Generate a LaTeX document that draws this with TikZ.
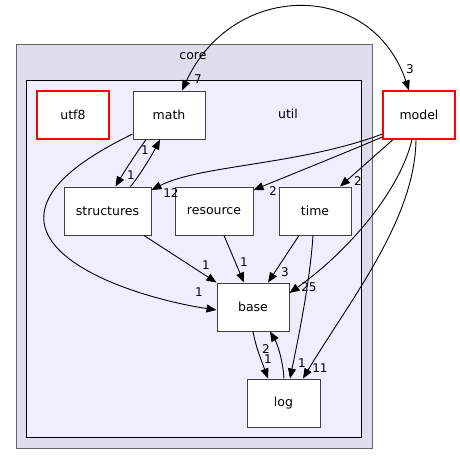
\documentclass[tikz,border=0pt]{standalone}
\usepackage{fontspec}
\setmainfont{DejaVu Sans}
\usetikzlibrary{arrows.meta}
\definecolor{nodeborder}{RGB}{64,64,64}
\definecolor{redborder}{RGB}{255,0,0}
\definecolor{corefill}{RGB}{221,221,238}
\definecolor{utilfill}{RGB}{238,238,255}
\tikzset{
  dirbox/.style={draw=nodeborder, line width=1pt, fill=white, minimum width=72pt, minimum height=48pt, inner sep=0pt, font=\fontsize{12.5}{15}\selectfont},
  redbox/.style={draw=redborder, line width=1.2pt, fill=white, minimum width=72pt, minimum height=48pt, inner sep=0pt, font=\fontsize{12.5}{15}\selectfont},
  edge/.style={draw=black, line width=0.9pt, -{Triangle[length=10pt,width=8pt]}},
  elabel/.style={inner sep=0pt, font=\fontsize{12}{14}\selectfont},
  cluster/.style={line width=1pt, inner sep=0pt}
}
\begin{document}
\begin{tikzpicture}[x=1pt,y=-1pt]
\useasboundingbox (0,0) rectangle (460,464);
% clusters
\node[cluster, draw=black!60, fill=corefill, minimum width=356pt, minimum height=404pt] (core) at (194,246) {};
\node[elabel, font=\fontsize{12.5}{15}\selectfont] (corelbl) at (193,56) {core};
\node[cluster, draw=black, fill=utilfill, minimum width=335pt, minimum height=357pt] (util) at (193.5,258.5) {};
\node[elabel, font=\fontsize{12.5}{15}\selectfont] (utillbl) at (288,114) {util};
% nodes
\node[redbox] (utf8) at (73,115) {utf8};
\node[dirbox] (math) at (169,115) {math};
\node[redbox] (model) at (419,115) {model};
\node[dirbox, minimum width=87pt] (structures) at (107.5,211) {structures};
\node[dirbox, minimum width=78pt] (resource) at (214,211) {resource};
\node[dirbox] (time) at (315,211) {time};
\node[dirbox] (base) at (253,307) {base};
\node[dirbox, minimum width=73pt] (log) at (283.5,403) {log};
% edges
\draw[edge] ([yshift=-19pt]math.west) .. controls (90,155) and (40,185) .. (44,222) .. controls (50,270) and (150,300) .. ([yshift=-3pt]base.west);
\node[elabel] (l1) at (199,292) {1};
\draw[edge] ([xshift=-23pt]math.south) .. controls (135,155) and (124,172) .. ([xshift=8pt]structures.north);
\node[elabel] (l2) at (131,175) {1};
\draw[edge] ([xshift=23pt]structures.north) .. controls (140,175) and (152,155) .. ([xshift=-9pt]math.south);
\node[elabel] (l3) at (145,150) {1};
\draw[edge, {Triangle[length=10pt,width=8pt]}-{Triangle[length=10pt,width=8pt]}] ([xshift=13pt]math.north) .. controls (233,-20) and (372,-20) .. ([xshift=-10pt]model.north);
\node[elabel] (l4) at (198,79) {7};
\node[elabel] (l5) at (410,69) {3};
\draw[edge] ([yshift=-19pt]model.west) .. controls (300,165) and (200,165) .. ([yshift=21pt]structures.east);
\node[elabel] (l6) at (171,193) {12};
\draw[edge] ([yshift=-22pt]model.west) .. controls (340,155) and (290,175) .. ([yshift=21pt]resource.east);
\node[elabel] (l7) at (273,191) {2};
\draw[edge] ([xshift=-26pt]model.south) -- ([xshift=25pt]time.north);
\node[elabel] (l8) at (358,181) {2};
\draw[edge] ([xshift=-7pt]model.south) .. controls (400,190) and (350,250) .. ([yshift=14pt]base.east);
\node[elabel] (l9) at (309,287) {25};
\draw[edge] ([xshift=-3pt]model.south) .. controls (415,220) and (350,300) .. ([xshift=19.5pt]log.north);
\node[elabel] (l10) at (320,368) {11};
\draw[edge] ([xshift=36.5pt]structures.south) -- (base.north west);
\node[elabel] (l11) at (206,265) {1};
\draw[edge] ([xshift=10pt]resource.south) -- ([xshift=-9pt]base.north);
\node[elabel] (l12) at (244,262) {1};
\draw[edge] ([xshift=-16pt]time.south) -- ([xshift=15pt]base.north);
\node[elabel] (l13) at (285,272) {3};
\draw[edge] ([xshift=-2pt]time.south) .. controls (310,280) and (300,330) .. ([xshift=6.5pt]log.north);
\node[elabel] (l14) at (302,363) {1};
\draw[edge] (base.south) .. controls (256,348) and (262,362) .. ([xshift=-15.5pt]log.north);
\node[elabel] (l15) at (268,359) {1};
\draw[edge] ([xshift=0.5pt]log.north) .. controls (283,362) and (278,345) .. ([xshift=17pt]base.south);
\node[elabel] (l16) at (266,349) {2};
\end{tikzpicture}
\end{document}
